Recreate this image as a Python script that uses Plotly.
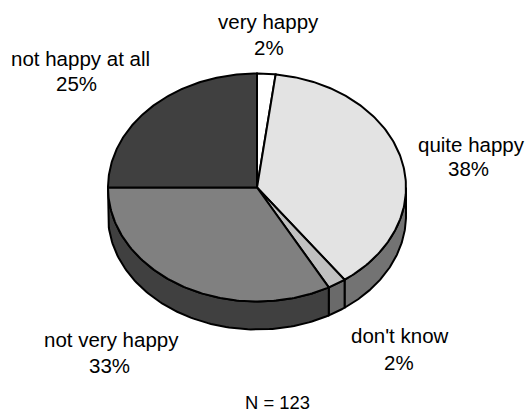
import numpy as np
import plotly.graph_objects as go

categories = ["very happy", "quite happy", "don't know", "not very happy", "not happy at all"]
values = [2, 38, 2, 33, 25]
top_colors = ["#ffffff", "#e3e3e3", "#c0c0c0", "#808080", "#404040"]
side_colors = ["#808080", "#737373", "#6a6a6a", "#404040", "#404040"]
# (name x, name baseline y, percent x, percent baseline y)
label_pos = [(268, 28, 269, 54), (471.5, 151, 468, 175), (399.5, 342, 399, 369),
             (111, 346, 109, 372), (80.5, 65, 76, 90)]
note = "N = 123"

CX, CY, RX, RY, DEPTH = 257, 187.5, 149, 114, 28
LW = 2
FONT = "Liberation Sans, Arial, sans-serif"
SIZE = 20.5
NOTE_SIZE = 18.4

def pt(a):
    r = np.radians(a)
    return CX + RX * np.sin(r), CY - RY * np.cos(r)

fig = go.Figure()
cum = np.cumsum([0] + values) * 3.6
# side walls (only the front half of the disc, 90..270 degrees clockwise from top)
for i in range(len(values)):
    a0, a1 = max(cum[i], 90), min(cum[i + 1], 270)
    if a1 <= a0:
        continue
    t = np.linspace(a0, a1, 100)
    x, y = pt(t)
    xs = np.r_[x, x[::-1], x[0]]
    ys = np.r_[y, (y + DEPTH)[::-1], y[0]]
    fig.add_trace(go.Scatter(x=xs, y=ys, mode="lines", fill="toself", fillcolor=side_colors[i],
                             line=dict(color="black", width=LW), hoverinfo="skip", showlegend=False))
# top faces
for i in range(len(values)):
    t = np.linspace(cum[i], cum[i + 1], 150)
    x, y = pt(t)
    xs = np.r_[CX, x, CX]
    ys = np.r_[CY, y, CY]
    fig.add_trace(go.Scatter(x=xs, y=ys, mode="lines", fill="toself", fillcolor=top_colors[i],
                             line=dict(color="black", width=LW), name=categories[i],
                             text=f"{categories[i]}: {values[i]}%", hoverinfo="text", showlegend=False))

def baseline_to_center(b, size):
    return b - 0.33 * size

for c, v, (nx, ny, px, py) in zip(categories, values, label_pos):
    fig.add_annotation(x=nx, y=baseline_to_center(ny, SIZE), text=c, showarrow=False,
                       font=dict(family=FONT, size=SIZE, color="black"))
    fig.add_annotation(x=px, y=baseline_to_center(py, SIZE), text=f"{v}%", showarrow=False,
                       font=dict(family=FONT, size=SIZE, color="black"))
fig.add_annotation(x=277, y=baseline_to_center(409, NOTE_SIZE), text=note, showarrow=False,
                   font=dict(family=FONT, size=NOTE_SIZE, color="black"))

fig.update_layout(width=525, height=412, margin=dict(l=0, r=0, t=0, b=0),
                  paper_bgcolor="white", plot_bgcolor="white",
                  xaxis=dict(range=[0, 525], visible=False, fixedrange=True),
                  yaxis=dict(range=[412, 0], visible=False, fixedrange=True))
fig.write_html("out.html", config={"displayModeBar": False},
               post_script="document.body.style.margin='0';document.documentElement.style.overflow='hidden';")
